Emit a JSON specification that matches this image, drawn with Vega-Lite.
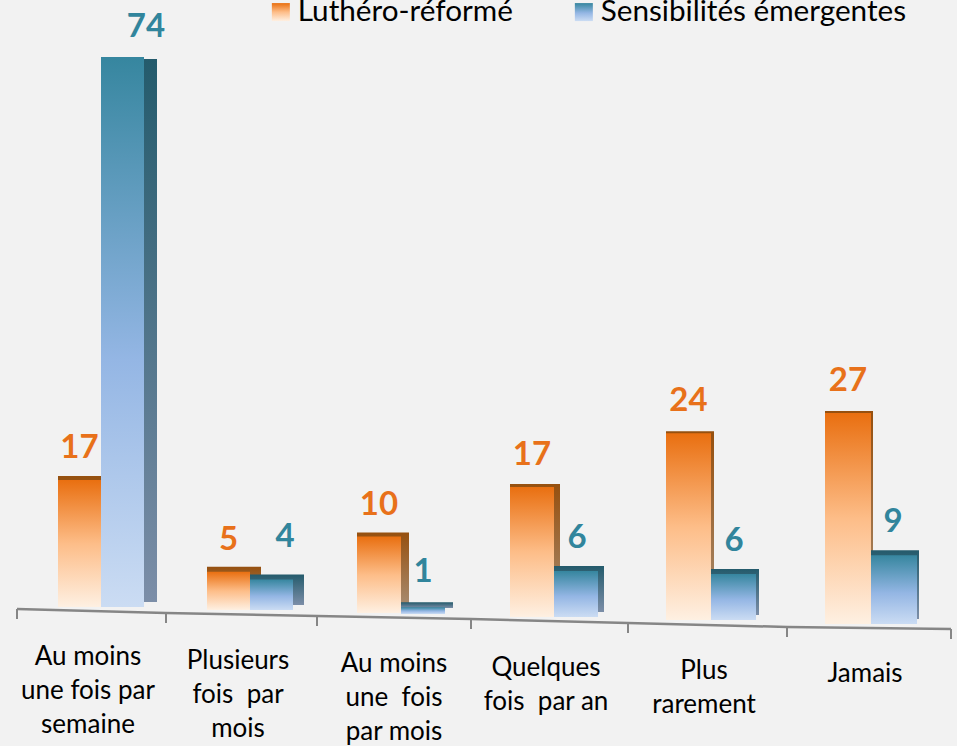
{
"$schema":"https://vega.github.io/schema/vega-lite/v6.json",
"width":957,"height":746,"padding":0,"autosize":{"type":"none"},
"background":"#f2f2f2",
"config":{"view":{"stroke":null},"font":"Lato","style":{
"of":{"color":{"x1":0,"y1":0,"x2":0,"y2":1,"gradient":"linear","stops":[{"offset":0,"color":"#e96f10"},{"offset":0.5,"color":"#fdbd88"},{"offset":1,"color":"#fef0e2"}]}},
"os":{"color":{"x1":0,"y1":0,"x2":0,"y2":1,"gradient":"linear","stops":[{"offset":0,"color":"#96500f"},{"offset":1,"color":"#a88e74"}]}},
"bf":{"color":{"x1":0,"y1":0,"x2":0,"y2":1,"gradient":"linear","stops":[{"offset":0,"color":"#36869f"},{"offset":0.55,"color":"#94b6e4"},{"offset":1,"color":"#cbdcf3"}]}},
"bs":{"color":{"x1":0,"y1":0,"x2":0,"y2":1,"gradient":"linear","stops":[{"offset":0,"color":"#245b6c"},{"offset":1,"color":"#7c8ea8"}]}},
"vo":{"fontSize":33,"fontWeight":"bold","color":"#e8711a","baseline":"middle","align":"center","dy":-32},
"vb":{"fontSize":33,"fontWeight":"bold","color":"#31859c","baseline":"middle","align":"center","dy":-32}
}},
"datasets":{
"barres":[
{"rang":1,"categorie":"Au moins\nune fois par\nsemaine","serie":"Luthéro-réformé","valeur":17},
{"rang":1,"categorie":"Au moins\nune fois par\nsemaine","serie":"Sensibilités émergentes","valeur":74},
{"rang":2,"categorie":"Plusieurs\nfois \u00a0par\nmois","serie":"Luthéro-réformé","valeur":5},
{"rang":2,"categorie":"Plusieurs\nfois \u00a0par\nmois","serie":"Sensibilités émergentes","valeur":4},
{"rang":3,"categorie":"Au moins\nune \u00a0fois\npar mois","serie":"Luthéro-réformé","valeur":10},
{"rang":3,"categorie":"Au moins\nune \u00a0fois\npar mois","serie":"Sensibilités émergentes","valeur":1},
{"rang":4,"categorie":"Quelques\nfois \u00a0par an","serie":"Luthéro-réformé","valeur":17},
{"rang":4,"categorie":"Quelques\nfois \u00a0par an","serie":"Sensibilités émergentes","valeur":6},
{"rang":5,"categorie":"Plus\nrarement","serie":"Luthéro-réformé","valeur":24},
{"rang":5,"categorie":"Plus\nrarement","serie":"Sensibilités émergentes","valeur":6},
{"rang":6,"categorie":"Jamais","serie":"Luthéro-réformé","valeur":27},
{"rang":6,"categorie":"Jamais","serie":"Sensibilités émergentes","valeur":9}
],
"limites":[{"rang":0.5},{"rang":1.5},{"rang":2.5},{"rang":3.5},{"rang":4.5},{"rang":5.5},{"rang":6.5}]
},
"data":{"name":"barres"},
"encoding":{
"x":{"field":"rang","type":"quantitative","axis":null,"scale":{"domain":[0.5,1,1.5,2,2.5,3,3.5,4,4.5,5,5.5,6,6.5],"range":[17,101,166,250,317,401,471,554,628,711,787,871,951]}},
"y":{"field":"valeur","type":"quantitative","axis":null,"stack":null,"scale":{"domain":[0,17,27,74],"range":[607,477,396,57]}}
},
"layer":[
{"mark":{"type":"point","filled":true,"opacity":0},
 "encoding":{
  "shape":{"field":"serie","type":"nominal","scale":{"domain":["Luthéro-réformé","Sensibilités émergentes"],"range":["square","square"]},
   "legend":{"orient":"none","legendX":266,"legendY":-3,"padding":0,"direction":"horizontal","title":null,"symbolSize":324,"symbolStrokeWidth":0,"labelFontSize":29.7,"labelLimit":500,"labelColor":"#000000","labelFont":"Lato","labelOffset":2,"columnPadding":56,"symbolOpacity":1,
   "encoding":{"symbols":{"opacity":{"value":1},"fill":{"condition":{"test":"datum.value==='Luthéro-réformé'","value":{"x1":0,"y1":0,"x2":0,"y2":1,"gradient":"linear","stops":[{"offset":0,"color":"#e96f10"},{"offset":0.5,"color":"#fdbd88"},{"offset":1,"color":"#fef0e2"}]}},"value":{"x1":0,"y1":0,"x2":0,"y2":1,"gradient":"linear","stops":[{"offset":0,"color":"#36869f"},{"offset":0.55,"color":"#94b6e4"},{"offset":1,"color":"#cbdcf3"}]}}}}}}}},
{"transform":[{"filter":"datum.rang==1&&datum.serie[0]=='L'"}],"mark":{"type":"bar","style":"os","orient":"vertical","width":56,"xOffset":-15,"yOffset":-1,"y2Offset":-4},"encoding":{"y2":{"datum":0}}},
{"transform":[{"filter":"datum.rang==1&&datum.serie[0]=='L'"}],"mark":{"type":"bar","style":"of","orient":"vertical","width":43,"xOffset":-21.5,"yOffset":3,"y2Offset":0},"encoding":{"y2":{"datum":0}}},
{"transform":[{"filter":"datum.rang==1&&datum.serie[0]=='S'"}],"mark":{"type":"bar","style":"bs","orient":"vertical","width":56,"xOffset":28,"yOffset":2,"y2Offset":-5},"encoding":{"y2":{"datum":0}}},
{"transform":[{"filter":"datum.rang==1&&datum.serie[0]=='S'"}],"mark":{"type":"bar","style":"bf","orient":"vertical","width":43,"xOffset":21.5,"yOffset":0,"y2Offset":0},"encoding":{"y2":{"datum":0}}},
{"transform":[{"filter":"datum.rang==2&&datum.serie[0]=='L'"}],"mark":{"type":"bar","style":"os","orient":"vertical","width":54,"xOffset":-16,"yOffset":-2,"y2Offset":-2},"encoding":{"y2":{"datum":0}}},
{"transform":[{"filter":"datum.rang==2&&datum.serie[0]=='L'"}],"mark":{"type":"bar","style":"of","orient":"vertical","width":43,"xOffset":-21.5,"yOffset":3,"y2Offset":3},"encoding":{"y2":{"datum":0}}},
{"transform":[{"filter":"datum.rang==2&&datum.serie[0]=='S'"}],"mark":{"type":"bar","style":"bs","orient":"vertical","width":54,"xOffset":27,"yOffset":-2,"y2Offset":-2},"encoding":{"y2":{"datum":0}}},
{"transform":[{"filter":"datum.rang==2&&datum.serie[0]=='S'"}],"mark":{"type":"bar","style":"bf","orient":"vertical","width":43,"xOffset":21.5,"yOffset":3,"y2Offset":3},"encoding":{"y2":{"datum":0}}},
{"transform":[{"filter":"datum.rang==3&&datum.serie[0]=='L'"}],"mark":{"type":"bar","style":"os","orient":"vertical","width":52,"xOffset":-18,"yOffset":2,"y2Offset":2},"encoding":{"y2":{"datum":0}}},
{"transform":[{"filter":"datum.rang==3&&datum.serie[0]=='L'"}],"mark":{"type":"bar","style":"of","orient":"vertical","width":44,"xOffset":-22,"yOffset":6,"y2Offset":6},"encoding":{"y2":{"datum":0}}},
{"transform":[{"filter":"datum.rang==3&&datum.serie[0]=='S'"}],"mark":{"type":"bar","style":"bs","orient":"vertical","width":52,"xOffset":26,"yOffset":3,"y2Offset":1},"encoding":{"y2":{"datum":0}}},
{"transform":[{"filter":"datum.rang==3&&datum.serie[0]=='S'"}],"mark":{"type":"bar","style":"bf","orient":"vertical","width":44,"xOffset":22,"yOffset":8,"y2Offset":7},"encoding":{"y2":{"datum":0}}},
{"transform":[{"filter":"datum.rang==4&&datum.serie[0]=='L'"}],"mark":{"type":"bar","style":"os","orient":"vertical","width":50,"xOffset":-19,"yOffset":7,"y2Offset":7},"encoding":{"y2":{"datum":0}}},
{"transform":[{"filter":"datum.rang==4&&datum.serie[0]=='L'"}],"mark":{"type":"bar","style":"of","orient":"vertical","width":44,"xOffset":-22,"yOffset":10,"y2Offset":10},"encoding":{"y2":{"datum":0}}},
{"transform":[{"filter":"datum.rang==4&&datum.serie[0]=='S'"}],"mark":{"type":"bar","style":"bs","orient":"vertical","width":50,"xOffset":25,"yOffset":5,"y2Offset":5},"encoding":{"y2":{"datum":0}}},
{"transform":[{"filter":"datum.rang==4&&datum.serie[0]=='S'"}],"mark":{"type":"bar","style":"bf","orient":"vertical","width":44,"xOffset":22,"yOffset":10,"y2Offset":10},"encoding":{"y2":{"datum":0}}},
{"transform":[{"filter":"datum.rang==5&&datum.serie[0]=='L'"}],"mark":{"type":"bar","style":"os","orient":"vertical","width":48,"xOffset":-21,"yOffset":11,"y2Offset":11},"encoding":{"y2":{"datum":0}}},
{"transform":[{"filter":"datum.rang==5&&datum.serie[0]=='L'"}],"mark":{"type":"bar","style":"of","orient":"vertical","width":45,"xOffset":-22.5,"yOffset":13,"y2Offset":13},"encoding":{"y2":{"datum":0}}},
{"transform":[{"filter":"datum.rang==5&&datum.serie[0]=='S'"}],"mark":{"type":"bar","style":"bs","orient":"vertical","width":48,"xOffset":24,"yOffset":8,"y2Offset":8},"encoding":{"y2":{"datum":0}}},
{"transform":[{"filter":"datum.rang==5&&datum.serie[0]=='S'"}],"mark":{"type":"bar","style":"bf","orient":"vertical","width":45,"xOffset":22.5,"yOffset":13,"y2Offset":13},"encoding":{"y2":{"datum":0}}},
{"transform":[{"filter":"datum.rang==6&&datum.serie[0]=='L'"}],"mark":{"type":"bar","style":"os","orient":"vertical","width":48,"xOffset":-22,"yOffset":15,"y2Offset":15},"encoding":{"y2":{"datum":0}}},
{"transform":[{"filter":"datum.rang==6&&datum.serie[0]=='L'"}],"mark":{"type":"bar","style":"of","orient":"vertical","width":46,"xOffset":-23,"yOffset":17,"y2Offset":17},"encoding":{"y2":{"datum":0}}},
{"transform":[{"filter":"datum.rang==6&&datum.serie[0]=='S'"}],"mark":{"type":"bar","style":"bs","orient":"vertical","width":48,"xOffset":24,"yOffset":12,"y2Offset":12},"encoding":{"y2":{"datum":0}}},
{"transform":[{"filter":"datum.rang==6&&datum.serie[0]=='S'"}],"mark":{"type":"bar","style":"bf","orient":"vertical","width":46,"xOffset":23,"yOffset":17,"y2Offset":17},"encoding":{"y2":{"datum":0}}},
{"transform":[{"filter":"datum.rang==1&&datum.serie[0]=='L'"}],"mark":{"type":"text","style":"vo","xOffset":-21.5,"yOffset":3},"encoding":{"text":{"field":"valeur","type":"quantitative"}}},
{"transform":[{"filter":"datum.rang==2&&datum.serie[0]=='L'"}],"mark":{"type":"text","style":"vo","xOffset":-21.5,"yOffset":3},"encoding":{"text":{"field":"valeur","type":"quantitative"}}},
{"transform":[{"filter":"datum.rang==3&&datum.serie[0]=='L'"}],"mark":{"type":"text","style":"vo","xOffset":-22,"yOffset":6},"encoding":{"text":{"field":"valeur","type":"quantitative"}}},
{"transform":[{"filter":"datum.rang==4&&datum.serie[0]=='L'"}],"mark":{"type":"text","style":"vo","xOffset":-22,"yOffset":10},"encoding":{"text":{"field":"valeur","type":"quantitative"}}},
{"transform":[{"filter":"datum.rang==5&&datum.serie[0]=='L'"}],"mark":{"type":"text","style":"vo","xOffset":-22.5,"yOffset":13},"encoding":{"text":{"field":"valeur","type":"quantitative"}}},
{"transform":[{"filter":"datum.rang==6&&datum.serie[0]=='L'"}],"mark":{"type":"text","style":"vo","xOffset":-23,"yOffset":17},"encoding":{"text":{"field":"valeur","type":"quantitative"}}},
{"transform":[{"filter":"datum.rang==1&&datum.serie[0]=='S'"}],"mark":{"type":"text","style":"vb","xOffset":45,"yOffset":2},"encoding":{"text":{"field":"valeur","type":"quantitative"}}},
{"transform":[{"filter":"datum.rang==2&&datum.serie[0]=='S'"}],"mark":{"type":"text","style":"vb","xOffset":35,"yOffset":-7},"encoding":{"text":{"field":"valeur","type":"quantitative"}}},
{"transform":[{"filter":"datum.rang==3&&datum.serie[0]=='S'"}],"mark":{"type":"text","style":"vb","xOffset":22,"yOffset":5},"encoding":{"text":{"field":"valeur","type":"quantitative"}}},
{"transform":[{"filter":"datum.rang==4&&datum.serie[0]=='S'"}],"mark":{"type":"text","style":"vb","xOffset":23,"yOffset":9},"encoding":{"text":{"field":"valeur","type":"quantitative"}}},
{"transform":[{"filter":"datum.rang==5&&datum.serie[0]=='S'"}],"mark":{"type":"text","style":"vb","xOffset":23,"yOffset":12},"encoding":{"text":{"field":"valeur","type":"quantitative"}}},
{"transform":[{"filter":"datum.rang==6&&datum.serie[0]=='S'"}],"mark":{"type":"text","style":"vb","xOffset":22,"yOffset":16},"encoding":{"text":{"field":"valeur","type":"quantitative"}}},
{"transform":[{"filter":"datum.serie[0]=='L'"}],
 "mark":{"type":"text","fontSize":26,"font":"Lato","color":"#000000","lineBreak":"\n","lineHeight":34,"baseline":"top","align":"center"},
 "encoding":{"text":{"field":"categorie","type":"nominal"},
  "x":{"field":"rang","type":"quantitative","axis":null,"scale":{"domain":[1,2,3,4,5,6],"range":[88,238,394,546,704,865]}},
  "y":{"field":"rang","type":"quantitative","axis":null,"scale":{"domain":[1,2,3,4,5,6],"range":[644,648,651,655,658,661]}}}},
{"data":{"name":"limites"},
 "mark":{"type":"line","stroke":"#868686","strokeWidth":2.5},
 "encoding":{"y":{"field":"rang","type":"quantitative","axis":null,"scale":{"domain":[0.5,1.5,2.5,3.5,4.5,5.5,6.5],"range":[609,613,616,619,623,627,629]}}}},
{"data":{"name":"limites"},
 "mark":{"type":"tick","orient":"vertical","color":"#868686","size":10,"thickness":2,"opacity":1},
 "encoding":{"y":{"field":"rang","type":"quantitative","axis":null,"scale":{"domain":[0.5,1.5,2.5,3.5,4.5,5.5,6.5],"range":[614,618,621,624,628,632,634]}}}}
],
"resolve":{"scale":{"x":"independent","y":"independent"}}
}
